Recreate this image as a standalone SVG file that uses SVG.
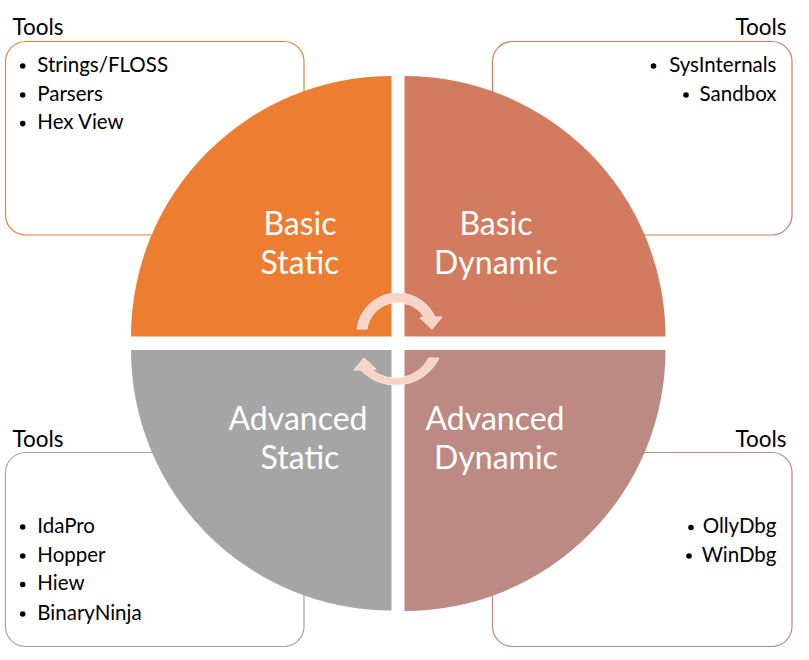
<svg xmlns="http://www.w3.org/2000/svg" width="809" height="660" viewBox="0 0 809 660">
<style>
  .box{fill:#fff;stroke-width:1.2}
  .lbl{font-family:Lato,"Liberation Sans",sans-serif;font-size:32px;fill:#fff;text-anchor:middle}
  .t{font-family:Lato,"Liberation Sans",sans-serif;font-size:20.5px;fill:#000}
  .h{font-family:Lato,"Liberation Sans",sans-serif;font-size:22.5px;fill:#000}
  .r{text-anchor:end}
  .arr{fill:#F8D4C7;stroke:#FCE9E2;stroke-width:1}
</style>
<rect width="809" height="660" fill="#fff"/>
<g id="tools-tl">
  <rect class="box" x="5.5" y="41.5" width="298.5" height="193.5" rx="20" stroke="#ED7D31"/>
  <text class="h" x="12.5" y="35">Tools</text>
  <circle cx="22.7" cy="66" r="2.8"/><text class="t" x="37.3" y="71.7">Strings/FLOSS</text>
  <circle cx="22.7" cy="95" r="2.8"/><text class="t" x="37.3" y="100.7">Parsers</text>
  <circle cx="22.7" cy="123.6" r="2.8"/><text class="t" x="37.3" y="129.3">Hex View</text>
</g>
<g id="tools-tr">
  <rect class="box" x="492.5" y="41.5" width="299.5" height="193.5" rx="20" stroke="#D37B5F"/>
  <text class="h r" x="786.5" y="35">Tools</text>
  <circle cx="653.5" cy="66" r="2.8"/><text class="t r" x="776.5" y="71.7">SysInternals</text>
  <circle cx="686" cy="95" r="2.8"/><text class="t r" x="776.5" y="100.7">Sandbox</text>
</g>
<g id="tools-bl">
  <rect class="box" x="5.5" y="452.5" width="298.5" height="194" rx="20" stroke="#A5A5A5"/>
  <text class="h" x="12.5" y="446.7">Tools</text>
  <circle cx="22.7" cy="527" r="2.8"/><text class="t" x="37.3" y="532.7">IdaPro</text>
  <circle cx="22.7" cy="556" r="2.8"/><text class="t" x="37.3" y="561.7">Hopper</text>
  <circle cx="22.7" cy="584.5" r="2.8"/><text class="t" x="37.3" y="590.3">Hiew</text>
  <circle cx="22.7" cy="614" r="2.8"/><text class="t" x="37.3" y="619.7">BinaryNinja</text>
</g>
<g id="tools-br">
  <rect class="box" x="492.5" y="452.5" width="299.5" height="194" rx="20" stroke="#BC8A82"/>
  <text class="h r" x="786.5" y="446.7">Tools</text>
  <circle cx="691" cy="527.5" r="2.8"/><text class="t r" x="776.5" y="533.3">OllyDbg</text>
  <circle cx="689" cy="556" r="2.8"/><text class="t r" x="776.5" y="561.7">WinDbg</text>
</g>
<g id="basic-static">
  <path d="M391.5,336.5 L131,336.5 A260.5,260.5 0 0 1 391.5,76 Z" fill="#ED7D31"/>
  <text class="lbl" x="300" y="235">Basic</text>
  <text class="lbl" x="300" y="273.5">Static</text>
</g>
<g id="basic-dynamic">
  <path d="M404.5,336.5 L404.5,76 A261,261 0 0 1 665.5,336.5 Z" fill="#D37B5F"/>
  <text class="lbl" x="496" y="235">Basic</text>
  <text class="lbl" x="496" y="273.5">Dynamic</text>
</g>
<g id="advanced-static">
  <path d="M391.5,350 L131,350 A260.5,260.5 0 0 0 391.5,610.5 Z" fill="#A5A5A5"/>
  <text class="lbl" x="298" y="430">Advanced</text>
  <text class="lbl" x="300" y="469">Static</text>
</g>
<g id="advanced-dynamic">
  <path d="M404.5,350 L665.5,350 A261,261 0 0 1 404.5,611 Z" fill="#BC8A82"/>
  <text class="lbl" x="495" y="430">Advanced</text>
  <text class="lbl" x="496" y="469">Dynamic</text>
</g>
<g id="connectors">
  <path class="arr" d="M357,329 A41,41 0 0 1 435,317 L442,317 L432,329 L420,318 L424,317 A31,31 0 0 0 367,329 Z"/>
  <path class="arr" d="M439,358 A48,48 0 0 1 361,370 L354,370 L364,358 L376,369 L372,370 A38,38 0 0 0 429,358 Z"/>
</g>
</svg>
